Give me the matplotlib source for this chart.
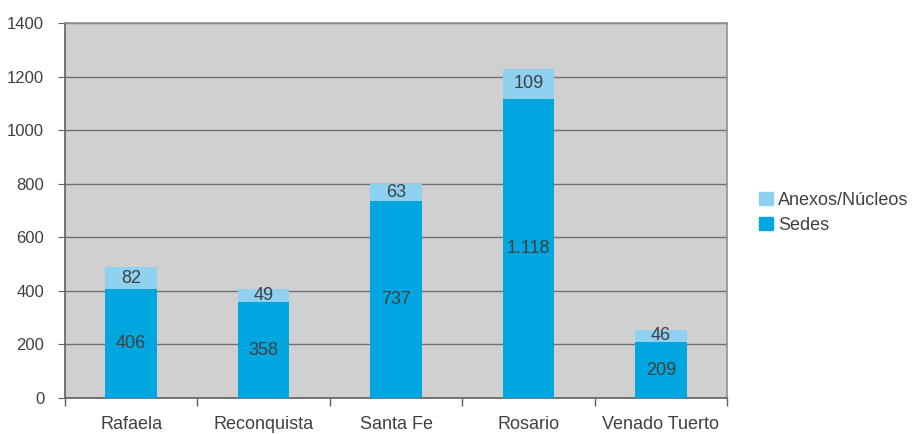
import matplotlib
matplotlib.use("Agg")
import matplotlib.pyplot as plt
import matplotlib.patches as mpatches
import numpy as np

CATEGORIES = ["Rafaela", "Reconquista", "Santa Fe", "Rosario", "Venado Tuerto"]
SEDES = [406, 358, 737, 1118, 209]
ANEXOS = [82, 49, 63, 109, 46]
Y_TICKS = [0, 200, 400, 600, 800, 1000, 1200, 1400]

COLOR_SEDES = "#00A6E0"
COLOR_ANEXOS = "#8FD1F0"
TEXT_COLOR = "#404040"
BG = "#D0D0D0"


def fmt(v):
    return f"{v:,}".replace(",", ".")


plt.rcParams["font.family"] = ["Liberation Sans", "DejaVu Sans"]

fig = plt.figure(figsize=(9.14, 4.34), dpi=100)
ax = fig.add_axes([65 / 914, 1 - 398 / 434, 662 / 914, 375 / 434])
ax.set_facecolor(BG)

x = np.arange(len(CATEGORIES))
width = 0.39
ax.bar(x, SEDES, width, color=COLOR_SEDES, zorder=3)
ax.bar(x, ANEXOS, width, bottom=SEDES, color=COLOR_ANEXOS, zorder=3)

for xi, s, a in zip(x, SEDES, ANEXOS):
    ax.text(xi, s / 2, fmt(s), ha="center", va="center", fontsize=13,
            color=TEXT_COLOR, zorder=4)
    ax.text(xi, s + a / 2, fmt(a), ha="center", va="center", fontsize=13,
            color=TEXT_COLOR, zorder=4)

ax.set_xlim(-0.5, len(CATEGORIES) - 0.5)
ax.set_ylim(0, 1400)
ax.set_yticks(Y_TICKS)
ax.set_yticklabels([str(v) for v in Y_TICKS])
ax.yaxis.grid(True, color="#707070", linewidth=1.0, zorder=1)
ax.set_axisbelow(True)

ax.set_xticks(x)
ax.set_xticklabels(CATEGORIES)
ax.set_xticks(np.arange(len(CATEGORIES) + 1) - 0.5, minor=True)
ax.tick_params(axis="x", which="major", length=0, pad=13, labelsize=13,
               labelcolor=TEXT_COLOR)
ax.tick_params(axis="x", which="minor", length=6, color="#606060", width=1)
ax.tick_params(axis="y", length=5, color="#606060", labelsize=12,
               labelcolor=TEXT_COLOR, pad=10)

for side in ["left", "bottom"]:
    ax.spines[side].set_color("#606060")
    ax.spines[side].set_linewidth(1.2)
for side in ["top", "right"]:
    ax.spines[side].set_color("#909090")
    ax.spines[side].set_linewidth(1.2)

handles = [mpatches.Patch(color=COLOR_ANEXOS, label="Anexos/Núcleos"),
           mpatches.Patch(color=COLOR_SEDES, label="Sedes")]
fig.legend(handles=handles, loc="center left", bbox_to_anchor=(750 / 914, 1 - 213 / 434),
           frameon=False, fontsize=13, handlelength=0.75, handleheight=0.75,
           handletextpad=0.3, labelspacing=0.45, labelcolor=TEXT_COLOR,
           borderpad=0)

fig.savefig("out.png", dpi=100)
